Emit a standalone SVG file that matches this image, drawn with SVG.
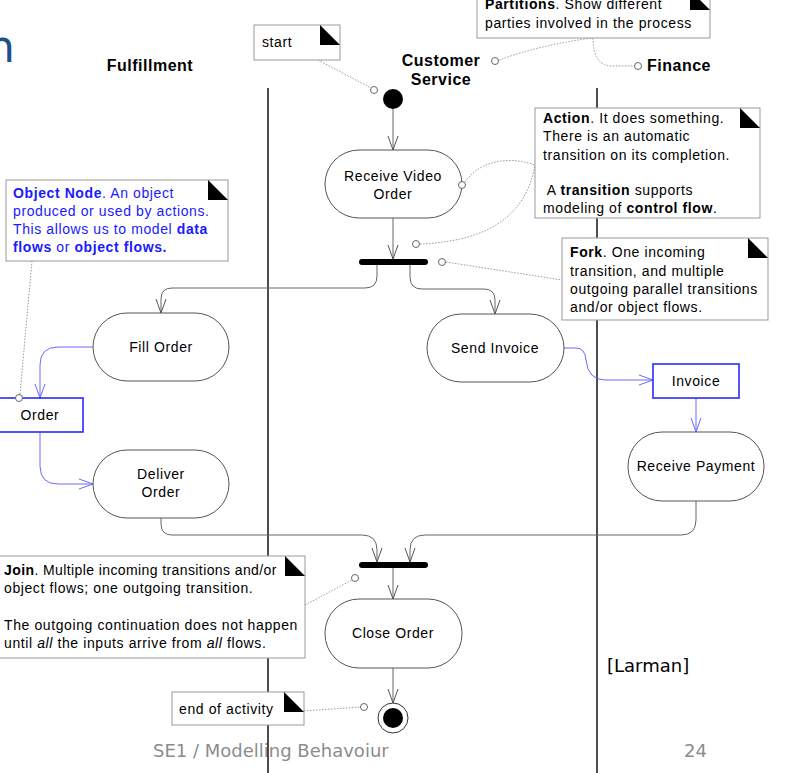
<svg xmlns="http://www.w3.org/2000/svg" width="804" height="773" viewBox="0 0 804 773">
<defs>
<marker id="arr" markerUnits="userSpaceOnUse" markerWidth="20" markerHeight="14" viewBox="-16 -7 18 14" refX="0" refY="0" orient="auto">
<path d="M-14,-5 L0,0 L-14,5" fill="none" stroke="#555" stroke-width="1"/>
</marker>
<marker id="arrb" markerUnits="userSpaceOnUse" markerWidth="20" markerHeight="14" viewBox="-16 -7 18 14" refX="0" refY="0" orient="auto">
<path d="M-14,-5 L0,0 L-14,5" fill="none" stroke="#6a6aff" stroke-width="1"/>
</marker>
</defs>
<style>
.t{font-family:"Liberation Sans",Arial,sans-serif;font-size:14px;letter-spacing:0.6px;fill:#000}
.h{font-family:"Liberation Sans",Arial,sans-serif;font-size:16px;font-weight:bold;letter-spacing:0.5px;fill:#000}
.b{font-weight:bold}
.blue{fill:#1a1aff}
.act{fill:#fff;stroke:#555;stroke-width:1}
.obj{fill:#fff;stroke:#2a2aff;stroke-width:1.6}
.note{fill:#fff;stroke:#999;stroke-width:1}
.fold{fill:#000}
.flow{fill:none;stroke:#666;stroke-width:1;marker-end:url(#arr)}
.oflow{fill:none;stroke:#6a6aff;stroke-width:1;marker-end:url(#arrb)}
.dot{fill:none;stroke:#999;stroke-width:1;stroke-dasharray:1.5 1.5}
.anc{fill:#fff;stroke:#666;stroke-width:1}
.bar{stroke:#000;stroke-width:6;stroke-linecap:round}
.lane{stroke:#000;stroke-width:1.4}
.foot{font-family:"DejaVu Sans",Verdana,sans-serif;font-size:18px;fill:#8c8c8c}
</style>
<rect x="0" y="0" width="804" height="773" fill="#fff"/>

<g id="title">
<text x="-13" y="62" font-family="DejaVu Sans,Verdana,sans-serif" font-size="44" fill="#1f4e8c">n</text>
</g>
<g id="footer">
<text class="foot" x="153" y="757">SE1 / Modelling Behavoiur</text>
<text class="foot" x="684" y="757">24</text>
<text x="607" y="672" font-family="DejaVu Sans,Verdana,sans-serif" font-size="18" fill="#000">[Larman]</text>
</g>

<g id="partitions">
<line class="lane" x1="268" y1="88" x2="268" y2="773"/>
<line class="lane" x1="597" y1="88" x2="597" y2="773"/>
<text class="h" x="150" y="71" text-anchor="middle">Fulfillment</text>
<text class="h" x="441" y="66" text-anchor="middle">Customer</text>
<text class="h" x="441" y="85" text-anchor="middle">Service</text>
<text class="h" x="647" y="71">Finance</text>
</g>

<g id="connectors">
<line class="flow" x1="393" y1="109" x2="393" y2="150"/>
<line class="flow" x1="393" y1="218" x2="393" y2="259"/>
<path class="flow" d="M377,265 V276 Q377,288 365,288 H172 Q161,288 161,299 V313"/>
<path class="flow" d="M410,265 V277 Q410,289 422,289 H484 Q495,289 495,300 V314"/>
<path class="oflow" d="M93,347 H58 Q40,347 40,365 V398"/>
<path class="oflow" d="M40,432 V466 Q40,484 58,484 H93"/>
<path class="oflow" d="M564,348 H576 Q585,348 586,360 Q588,380 605,380 H653"/>
<line class="oflow" x1="696" y1="398" x2="696" y2="432"/>
<path class="flow" d="M161,518 V524 Q161,535 172,535 H362 Q377,535 377,550 V562"/>
<path class="flow" d="M696,501 V520 Q696,535 681,535 H425 Q410,535 410,550 V562"/>
<line class="flow" x1="393" y1="568" x2="393" y2="599"/>
<line class="flow" x1="393" y1="668" x2="393" y2="703"/>
</g>

<g id="start">
<circle cx="393" cy="99" r="10" fill="#000"/>
</g>
<g id="receive-video-order">
<rect class="act" x="325" y="150" width="137" height="68" rx="34"/>
<text class="t" x="393" y="181" text-anchor="middle">Receive Video</text>
<text class="t" x="393" y="199" text-anchor="middle">Order</text>
</g>
<g id="fork">
<line class="bar" x1="362" y1="262" x2="425" y2="262"/>
</g>
<g id="fill-order">
<rect class="act" x="93" y="313" width="136" height="68" rx="34"/>
<text class="t" x="161" y="352" text-anchor="middle">Fill Order</text>
</g>
<g id="send-invoice">
<rect class="act" x="427" y="314" width="137" height="68" rx="34"/>
<text class="t" x="495" y="353" text-anchor="middle">Send Invoice</text>
</g>
<g id="order">
<rect class="obj" x="-2" y="398" width="85" height="34"/>
<text class="t" x="40" y="420" text-anchor="middle">Order</text>
</g>
<g id="invoice">
<rect class="obj" x="653" y="364" width="86" height="34"/>
<text class="t" x="696" y="386" text-anchor="middle">Invoice</text>
</g>
<g id="deliver-order">
<rect class="act" x="93" y="450" width="136" height="68" rx="34"/>
<text class="t" x="161" y="479" text-anchor="middle">Deliver</text>
<text class="t" x="161" y="497" text-anchor="middle">Order</text>
</g>
<g id="receive-payment">
<rect class="act" x="628" y="432" width="136" height="69" rx="34"/>
<text class="t" x="696" y="471" text-anchor="middle">Receive Payment</text>
</g>
<g id="join">
<line class="bar" x1="362" y1="565" x2="425" y2="565"/>
</g>
<g id="close-order">
<rect class="act" x="325" y="599" width="137" height="69" rx="34"/>
<text class="t" x="393" y="638" text-anchor="middle">Close Order</text>
</g>
<g id="end">
<circle cx="393" cy="718" r="15" fill="#fff" stroke="#333" stroke-width="1"/>
<circle cx="393" cy="718" r="10" fill="#000"/>
</g>

<g id="note-start">
<path class="dot" d="M318,60 L371,88"/>
<circle class="anc" cx="374" cy="90" r="3.5"/>
<rect class="note" x="254" y="25" width="86" height="35"/>
<polygon class="fold" points="320,25 340,45 320,45"/>
<text class="t" x="262" y="47">start</text>
</g>

<g id="note-partitions">
<path class="dot" d="M499,60 Q540,45 592,38"/>
<path class="dot" d="M593,38 Q593,66 612,66 L634,66"/>
<circle class="anc" cx="495" cy="61" r="3.5"/>
<circle class="anc" cx="638" cy="66" r="3.5"/>
<rect class="note" x="477" y="-10" width="233" height="48"/>
<polygon class="fold" points="690,-10 710,10 690,10"/>
<text class="t" x="485" y="9"><tspan class="b">Partitions</tspan>. Show different</text>
<text class="t" x="485" y="28">parties involved in the process</text>
</g>

<g id="note-action">
<path class="dot" d="M465,182 C480,160 510,156 535,165"/>
<path class="dot" d="M420,244 C490,241 526,215 535,165"/>
<circle class="anc" cx="462" cy="185" r="3.5"/>
<circle class="anc" cx="416" cy="244" r="3.5"/>
<rect class="note" x="535" y="108" width="225" height="110"/>
<polygon class="fold" points="740,108 760,128 740,128"/>
<text class="t" x="543" y="123"><tspan class="b">Action</tspan>. It does something.</text>
<text class="t" x="543" y="141">There is an automatic</text>
<text class="t" x="543" y="160">transition on its completion.</text>
<text class="t" x="543" y="195" xml:space="preserve"> A <tspan class="b">transition</tspan> supports</text>
<text class="t" x="543" y="213">modeling of <tspan class="b">control flow</tspan>.</text>
</g>

<g id="note-fork">
<path class="dot" d="M446,262 L562,280"/>
<circle class="anc" cx="442" cy="262" r="3.5"/>
<rect class="note" x="562" y="238" width="206" height="82"/>
<polygon class="fold" points="748,238 768,258 748,258"/>
<text class="t" x="570" y="257"><tspan class="b">Fork</tspan>. One incoming</text>
<text class="t" x="570" y="276">transition, and multiple</text>
<text class="t" x="570" y="294">outgoing parallel transitions</text>
<text class="t" x="570" y="312">and/or object flows.</text>
</g>

<g id="note-object">
<path class="dot" d="M32,261 L20,394"/>
<circle class="anc" cx="19" cy="398" r="3.5"/>
<rect class="note" x="6" y="180" width="222" height="81"/>
<polygon class="fold" points="208,180 228,200 208,200"/>
<text class="t blue" x="13" y="198"><tspan class="b">Object Node</tspan>. An object</text>
<text class="t blue" x="13" y="216">produced or used by actions.</text>
<text class="t blue" x="13" y="234">This allows us to model <tspan class="b">data</tspan></text>
<text class="t blue" x="13" y="252"><tspan class="b">flows</tspan> or <tspan class="b">object flows.</tspan></text>
</g>

<g id="note-join">
<path class="dot" d="M305,605 L352,580"/>
<circle class="anc" cx="355" cy="578" r="3.5"/>
<rect class="note" x="-2" y="556" width="307" height="102"/>
<polygon class="fold" points="285,556 305,576 285,576"/>
<text class="t" x="4" y="575" style="letter-spacing:0.4px"><tspan class="b">Join</tspan>. Multiple incoming transitions and/or</text>
<text class="t" x="4" y="593">object flows; one outgoing transition.</text>
<text class="t" x="4" y="630">The outgoing continuation does not happen</text>
<text class="t" x="4" y="648">until <tspan font-style="italic">all</tspan> the inputs arrive from <tspan font-style="italic">all</tspan> flows.</text>
</g>

<g id="note-end">
<path class="dot" d="M304,711 L360,707"/>
<circle class="anc" cx="364" cy="707" r="3.5"/>
<rect class="note" x="172" y="692" width="132" height="33"/>
<polygon class="fold" points="284,692 304,712 284,712"/>
<text class="t" x="179" y="714">end of activity</text>
</g>
</svg>
